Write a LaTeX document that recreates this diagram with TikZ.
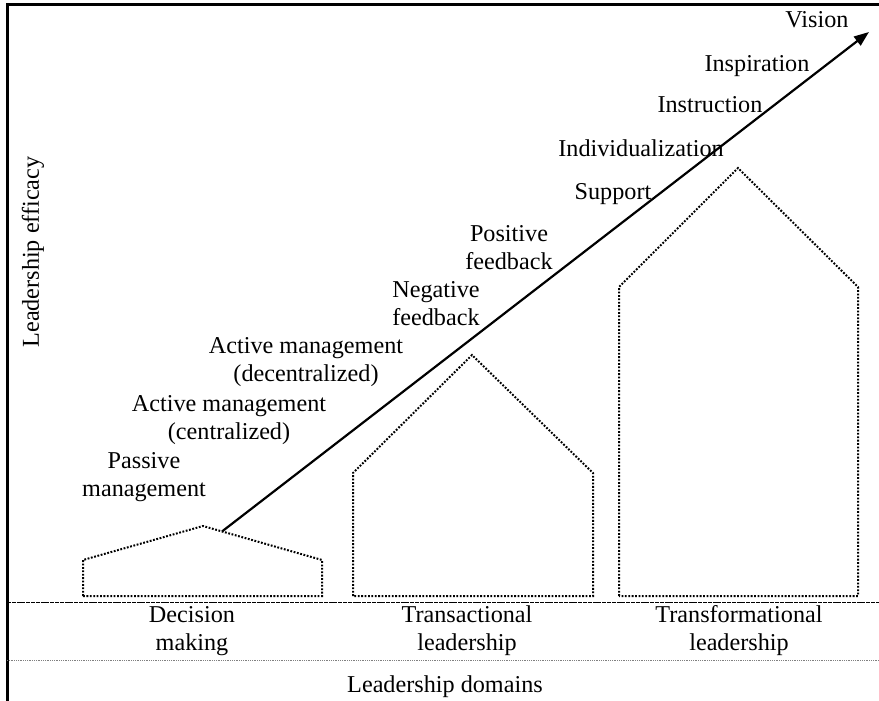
\documentclass[tikz,border=0pt]{standalone}
\usepackage{fontspec}
\setmainfont{Liberation Serif}
\usepackage{tikz}
\usetikzlibrary{arrows.meta, positioning, calc}
\tikzstyle{lbl} = [align=center, inner sep=0pt, font=\fontsize{12.1pt}{14pt}\selectfont]
\tikzstyle{house} = [line width=1pt, dash pattern=on 0.9pt off 0.8pt]

\begin{document}
\begin{tikzpicture}[x=0.5pt, y=-0.5pt]
    \useasboundingbox (0,0) rectangle (879,701);

    % frame (axes)
    \draw[line width=1.5pt] (879,5) -- (7,5) -- (7,701);

    % domain separators
    \draw[line width=0.5pt, dash pattern=on 2pt off 0.4pt] (7,602) -- (879,602);
    \draw[line width=0.5pt, gray, dash pattern=on 0.5pt off 0.4pt] (7,660) -- (879,660);

    % houses
    \draw[house] (83,596) -- (83,560) -- (203,526) coordinate (dmTop)
        -- (322,560) coordinate (dmRight) -- (322,596) -- cycle;
    \draw[house] (353,596) -- (353,473) -- (472,355) -- (593,473) -- (593,596) -- cycle;
    \draw[house] (619,596) -- (619,287) -- (738,168) -- (858,287) -- (858,596) -- cycle;

    % arrow
    \coordinate (start) at ($(dmTop)!0.16!(dmRight)$);
    \coordinate (tip) at (869,32);
    \draw[line width=1.1pt, -{Triangle[length=7.5pt,width=5.5pt]}] (start) -- (tip);

    % steps along the arrow
    \node[lbl] (vis) at (817,20) {Vision};
    \node[lbl] (insp) at (757,66) {Inspiration};
    \node[lbl] (instr) at (710,104.5) {Instruction};
    \node[lbl] (indiv) at (641,148.5) {Individualization};
    \node[lbl] (supp) at (613,194.5) {Support};
    \node[lbl] (posfb) at (509,248) {Positive\\feedback};
    \node[lbl] (negfb) at (436,303.5) {Negative\\feedback};
    \node[lbl] (actdec) at (306,362.5) {Active management\\(decentralized)};
    \node[lbl] (actcen) at (229,420.5) {Active management\\(centralized)};
    \node[lbl] (pass) at (144,477.5) {Passive\\management};

    % domains
    \node[lbl] (dec) at (192,631) {Decision\\making};
    \node[lbl] (trans) at (467,631) {Transactional\\leadership};
    \node[lbl] (transf) at (739,631) {Transformational\\leadership};

    % axis labels
    \node[lbl] (xlab) at (445,687) {Leadership domains};
    \node[lbl, rotate=90] (ylab) at (33,252) {Leadership efficacy};
\end{tikzpicture}
\end{document}
